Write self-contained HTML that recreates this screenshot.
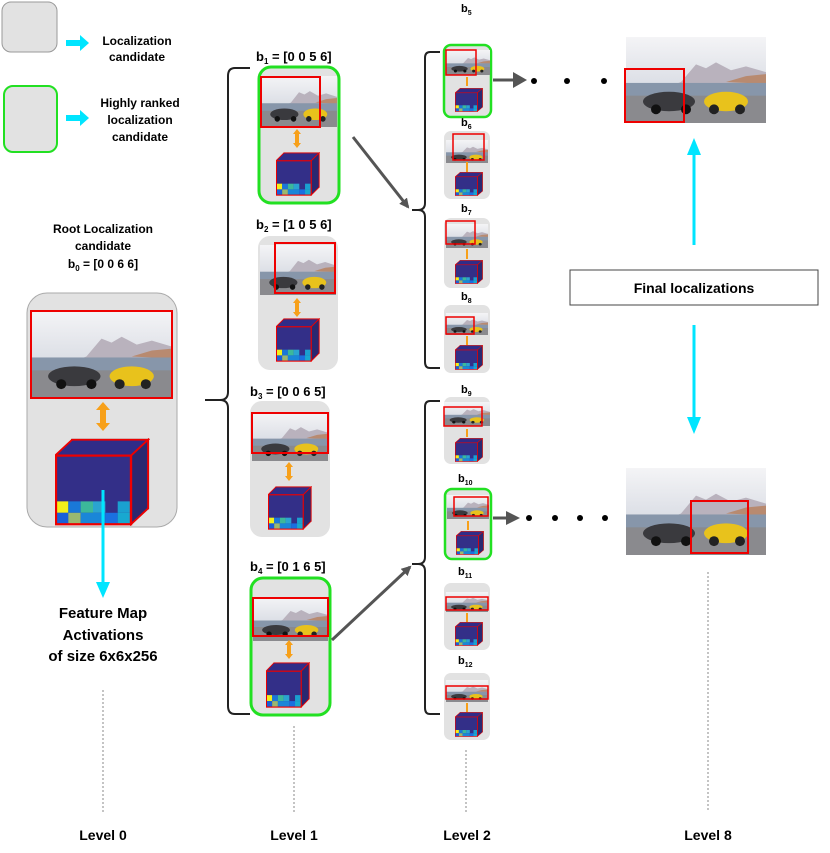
<!DOCTYPE html>
<html><head><meta charset="utf-8"><style>
body{margin:0;background:#fff}
svg{display:block;font-family:"Liberation Sans",Arial,sans-serif;font-weight:bold}
</style></head><body>
<svg width="830" height="853" viewBox="0 0 830 853" xmlns="http://www.w3.org/2000/svg">
<defs>
<linearGradient id="sky" x1="0" y1="0" x2="0" y2="1"><stop offset="0" stop-color="#f4f4f6"/><stop offset="1" stop-color="#dcdfe6"/></linearGradient>
<symbol id="photo" viewBox="0 0 140 88" preserveAspectRatio="none">
<rect width="140" height="48" fill="url(#sky)"/>
<polygon points="55,46 70,28 80,32 90,26 105,34 120,30 140,36 140,48 50,48" fill="#b9b2bd"/>
<polygon points="100,46 120,40 140,38 140,48" fill="#b88a70"/>
<rect y="47" width="140" height="15" fill="#8796aa"/>
<rect y="60" width="140" height="28" fill="#8a8a8e"/>
<ellipse cx="43" cy="66" rx="26" ry="10" fill="#3a3a3e"/>
<circle cx="30" cy="74" r="5" fill="#111"/><circle cx="60" cy="74" r="5" fill="#111"/>
<ellipse cx="100" cy="66" rx="22" ry="10" fill="#e8c21c"/>
<circle cx="88" cy="74" r="5" fill="#222"/><circle cx="114" cy="74" r="5" fill="#222"/>
</symbol>
<symbol id="cube" viewBox="0 0 100 100" preserveAspectRatio="none">
<rect x="18" y="2" width="80" height="78" fill="#2c2a7c" stroke="#111" stroke-width="2"/>
<polygon points="0,20 18,2 98,2 80,20" fill="#302c88" stroke="#e00" stroke-width="2"/>
<polygon points="80,20 98,2 98,80 80,98" fill="#2a2870" stroke="#e00" stroke-width="2"/>
<rect x="1" y="20" width="79" height="78" fill="#332f88"/>
<rect x="1" y="72" width="13" height="13" fill="#f2f01a"/><rect x="14" y="72" width="13" height="13" fill="#1a78d8"/>
<rect x="27" y="72" width="13" height="13" fill="#3cb89a"/><rect x="40" y="72" width="13" height="13" fill="#2aa4d0"/>
<rect x="66" y="72" width="13" height="13" fill="#1aa0d0"/>
<rect x="1" y="85" width="13" height="13" fill="#1a60d8"/><rect x="14" y="85" width="13" height="13" fill="#9ab870"/>
<rect x="27" y="85" width="26" height="13" fill="#1a86d8"/><rect x="53" y="85" width="13" height="13" fill="#1a70e0"/>
<rect x="66" y="85" width="13" height="13" fill="#18a8d0"/>
<rect x="1" y="20" width="79" height="78" fill="none" stroke="#e00" stroke-width="2.5"/>
</symbol>
<marker id="ah" markerWidth="10" markerHeight="10" refX="8" refY="5" orient="auto" markerUnits="userSpaceOnUse"><path d="M0,0 L10,5 L0,10z" fill="#555"/></marker>
</defs>

<!-- Legend -->
<rect x="2" y="2" width="55" height="50" rx="9" fill="#e2e2e2" stroke="#999"/>
<path d="M66,43 h14 v-5 l9,8 -9,8 v-5 h-14z" fill="#00e5ff" transform="translate(0,-3)"/>
<text x="137" y="45" font-size="12" text-anchor="middle">Localization</text>
<text x="137" y="61" font-size="12" text-anchor="middle">candidate</text>
<rect x="4" y="86" width="53" height="66" rx="9" fill="#e2e2e2" stroke="#22e022" stroke-width="2"/>
<path d="M66,115 h14 v-5 l9,8 -9,8 v-5 h-14z" fill="#00e5ff"/>
<text x="140" y="107" font-size="12" text-anchor="middle">Highly ranked</text>
<text x="140" y="124" font-size="12" text-anchor="middle">localization</text>
<text x="140" y="141" font-size="12" text-anchor="middle">candidate</text>

<!-- Level 0 -->
<text x="103" y="233" font-size="12" text-anchor="middle">Root Localization</text>
<text x="103" y="250" font-size="12" text-anchor="middle">candidate</text>
<text x="103" y="268" font-size="12" text-anchor="middle">b<tspan font-size="8" dy="3">0</tspan><tspan dy="-3"> = [0 0 6 6]</tspan></text>
<rect x="27" y="293" width="150" height="234" rx="20" fill="#e2e2e2" stroke="#aaa"/>
<use href="#photo" x="31" y="311" width="141" height="87"/>
<rect x="31" y="311" width="141" height="87" fill="none" stroke="#e00" stroke-width="2"/>
<path d="M103,402 l-7,8 h4 v13 h-4 l7,8 7,-8 h-4 v-13 h4z" fill="#f7a01a"/>
<use href="#cube" x="55" y="438" width="95" height="88"/>
<line x1="103" y1="490" x2="103" y2="585" stroke="#00e5ff" stroke-width="3"/>
<path d="M96,582 h14 l-7,16z" fill="#00e5ff"/>
<text x="103" y="618" font-size="15" text-anchor="middle">Feature Map</text>
<text x="103" y="640" font-size="15" text-anchor="middle">Activations</text>
<text x="103" y="661" font-size="15" text-anchor="middle">of size 6x6x256</text>
<line x1="103" y1="690" x2="103" y2="812" stroke="#888" stroke-dasharray="2,2"/>
<text x="103" y="840" font-size="14" text-anchor="middle">Level 0</text>

<!-- Level 1 bracket -->
<path d="M250,68 h-15 q-7,0 -7,8 v316 q0,8 -8,8 h-15 h15 q8,0 8,8 v298 q0,8 7,8 h15" fill="none" stroke="#222" stroke-width="2"/>

<text x="256" y="61" font-size="13">b<tspan font-size="8" dy="3">1</tspan><tspan dy="-3"> = [0 0 5 6]</tspan></text>
<rect x="259" y="67" width="80" height="136" rx="12" fill="#e2e2e2" stroke="#22e022" stroke-width="3"/>
<use href="#photo" x="261" y="76" width="76" height="51"/>
<rect x="261" y="77" width="59" height="50" fill="none" stroke="#e00" stroke-width="2"/>
<path d="M297,129 l-4,5 h2 v9 h-2 l4,5 4,-5 h-2 v-9 h2z" fill="#f7a01a"/>
<use href="#cube" x="276" y="152" width="44" height="44"/>

<text x="256" y="229" font-size="13">b<tspan font-size="8" dy="3">2</tspan><tspan dy="-3"> = [1 0 5 6]</tspan></text>
<rect x="258" y="236" width="80" height="134" rx="12" fill="#e2e2e2"/>
<use href="#photo" x="260" y="245" width="76" height="50"/>
<rect x="275" y="243" width="60" height="50" fill="none" stroke="#e00" stroke-width="2"/>
<path d="M297,298 l-4,5 h2 v9 h-2 l4,5 4,-5 h-2 v-9 h2z" fill="#f7a01a"/>
<use href="#cube" x="276" y="318" width="44" height="44"/>

<text x="250" y="396" font-size="13">b<tspan font-size="8" dy="3">3</tspan><tspan dy="-3"> = [0 0 6 5]</tspan></text>
<rect x="250" y="401" width="80" height="136" rx="12" fill="#e2e2e2"/>
<use href="#photo" x="252" y="413" width="76" height="48"/>
<rect x="252" y="413" width="76" height="40" fill="none" stroke="#e00" stroke-width="2"/>
<path d="M289,462 l-4,5 h2 v9 h-2 l4,5 4,-5 h-2 v-9 h2z" fill="#f7a01a"/>
<use href="#cube" x="268" y="486" width="44" height="44"/>

<text x="250" y="571" font-size="13">b<tspan font-size="8" dy="3">4</tspan><tspan dy="-3"> = [0 1 6 5]</tspan></text>
<rect x="251" y="578" width="79" height="137" rx="12" fill="#e2e2e2" stroke="#22e022" stroke-width="3"/>
<use href="#photo" x="253" y="597" width="75" height="44"/>
<rect x="253" y="598" width="75" height="38" fill="none" stroke="#e00" stroke-width="2"/>
<path d="M289,640 l-4,5 h2 v9 h-2 l4,5 4,-5 h-2 v-9 h2z" fill="#f7a01a"/>
<use href="#cube" x="266" y="662" width="44" height="46"/>

<line x1="294" y1="726" x2="294" y2="812" stroke="#888" stroke-dasharray="2,2"/>
<text x="294" y="840" font-size="14" text-anchor="middle">Level 1</text>

<!-- arrows L1->L2 -->
<line x1="353" y1="137" x2="408" y2="207" stroke="#555" stroke-width="3" marker-end="url(#ah)"/>
<line x1="332" y1="640" x2="410" y2="567" stroke="#555" stroke-width="3" marker-end="url(#ah)"/>

<!-- Level 2 brackets -->
<path d="M440,52 h-10 q-5,0 -5,6 v145 q0,7 -7,7 h-6 h6 q7,0 7,7 v145 q0,6 5,6 h10" fill="none" stroke="#222" stroke-width="2"/>
<path d="M440,401 h-10 q-5,0 -5,6 v150 q0,7 -7,7 h-6 h6 q7,0 7,7 v137 q0,6 5,6 h10" fill="none" stroke="#222" stroke-width="2"/>

<g font-size="11">
<text x="461" y="12">b<tspan font-size="7" dy="3">5</tspan></text>
<text x="461" y="126">b<tspan font-size="7" dy="3">6</tspan></text>
<text x="461" y="212">b<tspan font-size="7" dy="3">7</tspan></text>
<text x="461" y="300">b<tspan font-size="7" dy="3">8</tspan></text>
<text x="461" y="393">b<tspan font-size="7" dy="3">9</tspan></text>
<text x="458" y="482">b<tspan font-size="7" dy="3">10</tspan></text>
<text x="458" y="575">b<tspan font-size="7" dy="3">11</tspan></text>
<text x="458" y="664">b<tspan font-size="7" dy="3">12</tspan></text>
</g>

<!-- b5 -->
<rect x="444" y="45" width="47" height="72" rx="7" fill="#e2e2e2" stroke="#22e022" stroke-width="2.5"/>
<use href="#photo" x="446" y="50" width="44" height="25"/>
<rect x="446" y="50" width="30" height="25" fill="none" stroke="#e00" stroke-width="1.5"/>
<line x1="467" y1="77" x2="467" y2="86" stroke="#f7a01a" stroke-width="2"/>
<use href="#cube" x="455" y="88" width="28" height="24"/>
<!-- b6 -->
<rect x="444" y="131" width="46" height="68" rx="7" fill="#e2e2e2"/>
<use href="#photo" x="446" y="140" width="42" height="23"/>
<rect x="453" y="134" width="31" height="26" fill="none" stroke="#e00" stroke-width="1.5"/>
<line x1="467" y1="162" x2="467" y2="172" stroke="#f7a01a" stroke-width="2"/>
<use href="#cube" x="455" y="172" width="28" height="24"/>
<!-- b7 -->
<rect x="444" y="218" width="46" height="70" rx="7" fill="#e2e2e2"/>
<use href="#photo" x="446" y="224" width="42" height="24"/>
<rect x="446" y="221" width="29" height="23" fill="none" stroke="#e00" stroke-width="1.5"/>
<line x1="467" y1="249" x2="467" y2="259" stroke="#f7a01a" stroke-width="2"/>
<use href="#cube" x="455" y="260" width="28" height="24"/>
<!-- b8 -->
<rect x="444" y="305" width="46" height="68" rx="7" fill="#e2e2e2"/>
<use href="#photo" x="446" y="313" width="42" height="22"/>
<rect x="446" y="317" width="28" height="17" fill="none" stroke="#e00" stroke-width="1.5"/>
<line x1="467" y1="336" x2="467" y2="345" stroke="#f7a01a" stroke-width="2"/>
<use href="#cube" x="455" y="345" width="28" height="25"/>
<!-- b9 -->
<rect x="444" y="397" width="46" height="67" rx="7" fill="#e2e2e2"/>
<use href="#photo" x="444" y="402" width="46" height="24"/>
<rect x="444" y="407" width="38" height="19" fill="none" stroke="#e00" stroke-width="1.5"/>
<line x1="467" y1="429" x2="467" y2="437" stroke="#f7a01a" stroke-width="2"/>
<use href="#cube" x="455" y="438" width="28" height="24"/>
<!-- b10 -->
<rect x="445" y="489" width="46" height="70" rx="7" fill="#e2e2e2" stroke="#22e022" stroke-width="2.5"/>
<use href="#photo" x="447" y="495" width="42" height="24"/>
<rect x="454" y="497" width="34" height="19" fill="none" stroke="#e00" stroke-width="1.5"/>
<line x1="468" y1="521" x2="468" y2="530" stroke="#f7a01a" stroke-width="2"/>
<use href="#cube" x="456" y="531" width="28" height="24"/>
<!-- b11 -->
<rect x="444" y="583" width="46" height="67" rx="7" fill="#e2e2e2"/>
<use href="#photo" x="446" y="592" width="42" height="20"/>
<rect x="446" y="597" width="42" height="13" fill="none" stroke="#e00" stroke-width="1.5"/>
<line x1="467" y1="613" x2="467" y2="622" stroke="#f7a01a" stroke-width="2"/>
<use href="#cube" x="455" y="622" width="28" height="24"/>
<!-- b12 -->
<rect x="444" y="673" width="46" height="67" rx="7" fill="#e2e2e2"/>
<use href="#photo" x="446" y="680" width="42" height="22"/>
<rect x="446" y="686" width="42" height="13" fill="none" stroke="#e00" stroke-width="1.5"/>
<line x1="467" y1="703" x2="467" y2="712" stroke="#f7a01a" stroke-width="2"/>
<use href="#cube" x="455" y="712" width="28" height="25"/>

<line x1="466" y1="750" x2="466" y2="812" stroke="#888" stroke-dasharray="2,2"/>
<text x="467" y="840" font-size="14" text-anchor="middle">Level 2</text>

<!-- to level 8 -->
<line x1="493" y1="80" x2="517" y2="80" stroke="#555" stroke-width="3"/><path d="M513,72 l14,8 -14,8z" fill="#555"/>
<circle cx="534" cy="81" r="3" fill="#000"/><circle cx="567" cy="81" r="3" fill="#000"/><circle cx="604" cy="81" r="3" fill="#000"/>
<line x1="493" y1="518" x2="510" y2="518" stroke="#555" stroke-width="3"/><path d="M506,511 l14,7 -14,7z" fill="#555"/>
<circle cx="529" cy="518" r="3" fill="#000"/><circle cx="555" cy="518" r="3" fill="#000"/><circle cx="580" cy="518" r="3" fill="#000"/><circle cx="605" cy="518" r="3" fill="#000"/>

<use href="#photo" x="626" y="37" width="140" height="86"/>
<rect x="625" y="69" width="59" height="53" fill="none" stroke="#e00" stroke-width="2"/>
<use href="#photo" x="626" y="468" width="140" height="87"/>
<rect x="691" y="501" width="57" height="52" fill="none" stroke="#e00" stroke-width="2"/>

<line x1="694" y1="245" x2="694" y2="152" stroke="#00e5ff" stroke-width="3"/>
<path d="M687,155 h14 l-7,-17z" fill="#00e5ff"/>
<rect x="570" y="270" width="248" height="35" fill="#fff" stroke="#444"/>
<text x="694" y="293" font-size="14" text-anchor="middle">Final localizations</text>
<line x1="694" y1="325" x2="694" y2="420" stroke="#00e5ff" stroke-width="3"/>
<path d="M687,417 h14 l-7,17z" fill="#00e5ff"/>

<line x1="708" y1="572" x2="708" y2="812" stroke="#888" stroke-dasharray="2,2"/>
<text x="708" y="840" font-size="14" text-anchor="middle">Level 8</text>
</svg>
</body></html>
